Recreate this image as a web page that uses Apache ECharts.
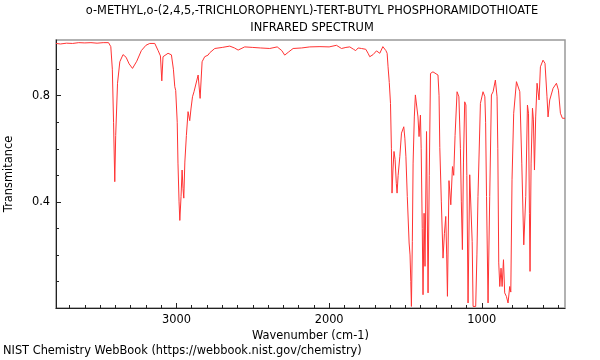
<!DOCTYPE html>
<html>
<head>
<meta charset="utf-8">
<script src="https://cdn.jsdelivr.net/npm/echarts@6/dist/echarts.min.js"></script>
<style>html,body{margin:0;padding:0;background:#fff}#c{width:600px;height:360px}</style>
</head>
<body>
<div id="c"></div>
<script>
const titleLines = ["o-METHYL,o-(2,4,5,-TRICHLOROPHENYL)-TERT-BUTYL PHOSPHORAMIDOTHIOATE", "INFRARED SPECTRUM"];
const footerText = "NIST Chemistry WebBook (https://webbook.nist.gov/chemistry)";
const xName = "Wavenumber (cm-1)";
const yName = "Transmitance";
const xMajorTicks = [1000, 2000, 3000];
const xMinorTicks = [500,600,700,800,900,1100,1200,1300,1400,1500,1600,1700,1800,1900,2100,2200,2300,2400,2500,2600,2700,2800,2900,3100,3200,3300,3400,3500,3600,3700];
const yMajorTicks = [0.4, 0.8];
const yMinorTicks = [0.1, 0.2, 0.3, 0.5, 0.6, 0.7, 0.9];
const wavenumber = [3789,3760,3720,3680,3640,3600,3560,3520,3480,3445,3430,3420,3412,3404,3398,3386,3371,3350,3330,3310,3288,3260,3230,3200,3175,3142,3120,3105,3096,3088,3055,3033,3020,3011,3005,2995,2990,2983,2978,2970,2963,2957,2952,2945,2935,2924,2913,2905,2895,2885,2873,2858,2852,2845,2832,2815,2793,2782,2749,2700,2651,2620,2596,2553,2500,2450,2389,2340,2310,2291,2265,2236,2180,2127,2060,2000,1952,1919,1890,1865,1840,1826,1810,1788,1760,1745,1734,1712,1690,1668,1648,1636,1628,1620,1614,1606,1598,1592,1588,1582,1575,1568,1560,1555,1548,1537,1526,1511,1504,1497,1488,1476,1470,1465,1461,1455,1450,1442,1435,1425,1418,1411,1402,1397,1390,1385,1378,1372,1362,1352,1344,1336,1320,1308,1287,1280,1275,1265,1254,1245,1236,1230,1225,1215,1203,1192,1184,1175,1162,1150,1140,1134,1127,1120,1112,1104,1098,1090,1079,1070,1063,1057,1040,1032,1025,1009,992,980,975,969,959,948,937,926,911,900,895,889,882,874,867,858,850,839,828,817,810,802,791,773,762,751,738,725,712,701,694,688,684,677,668,662,655,647,638,625,616,599,586,573,566,555,544,533,511,498,485,472,455];
const transmittance = [0.997,0.995,0.998,0.997,1.0,0.999,1.0,0.998,1.0,1.0,0.985,0.9,0.7,0.476,0.65,0.847,0.928,0.955,0.945,0.92,0.903,0.93,0.97,0.99,0.997,0.997,0.97,0.95,0.856,0.947,0.96,0.954,0.9,0.834,0.82,0.7,0.546,0.4,0.33,0.42,0.52,0.45,0.414,0.55,0.65,0.74,0.706,0.75,0.796,0.815,0.81,0.878,0.884,0.79,0.928,0.947,0.953,0.962,0.978,0.982,0.987,0.98,0.972,0.984,0.982,0.98,0.978,0.984,0.97,0.953,0.965,0.978,0.98,0.984,0.985,0.984,0.99,0.978,0.982,0.984,0.975,0.97,0.98,0.978,0.975,0.96,0.947,0.955,0.969,0.96,0.985,0.99,0.97,0.96,0.909,0.85,0.771,0.6,0.433,0.52,0.59,0.56,0.47,0.433,0.5,0.57,0.659,0.683,0.64,0.57,0.42,0.245,0.2,0.1,0.006,0.25,0.546,0.72,0.803,0.796,0.72,0.646,0.727,0.6,0.3,0.05,0.357,0.157,0.665,0.057,0.5,0.884,0.89,0.89,0.878,0.8,0.605,0.4,0.188,0.28,0.345,0.2,0.044,0.48,0.389,0.533,0.5,0.65,0.815,0.796,0.6,0.4,0.22,0.55,0.777,0.765,0.5,0.019,0.502,0.495,0.25,0.006,0.006,0.2,0.42,0.771,0.815,0.796,0.7,0.42,0.019,0.42,0.803,0.815,0.859,0.796,0.6,0.17,0.081,0.15,0.081,0.182,0.057,0.044,0.019,0.081,0.06,0.483,0.734,0.853,0.847,0.815,0.546,0.238,0.42,0.765,0.734,0.357,0.138,0.546,0.753,0.709,0.52,0.72,0.847,0.784,0.909,0.934,0.922,0.796,0.72,0.784,0.777,0.828,0.847,0.821,0.734,0.715,0.715];

const FONT = 'DejaVu Sans';
const FS = 11.4;
const chart = echarts.init(document.getElementById('c'), null, {renderer: 'canvas'});
const pts = wavenumber.map((w, i) => [w, transmittance[i]]);
const X_MIN = 455, X_MAX = 3789, Y_MIN = 0, Y_MAX = 1.01;
chart.setOption({
  animation: false,
  backgroundColor: '#ffffff',
  title: {show: false, text: titleLines.join(' ')},
  graphic: [{
    type: 'text', x: 312, y: 6,
    style: {text: titleLines[0], fontFamily: FONT, fontSize: FS, fill: '#000', align: 'center', verticalAlign: 'top'}
  }, {
    type: 'text', x: 312, y: 23,
    style: {text: titleLines[1], fontFamily: FONT, fontSize: FS, fill: '#000', align: 'center', verticalAlign: 'top'}
  }, {
    type: 'text', x: 3, y: 346,
    style: {text: footerText, fontFamily: FONT, fontSize: FS, fill: '#000', align: 'left', verticalAlign: 'top'}
  }],
  grid: {left: 56, right: 35, top: 40, bottom: 52, show: true, borderColor: '#999', borderWidth: 1.5,
    containLabel: false, outerBoundsMode: 'none'},
  xAxis: [{
    type: 'value', inverse: true, min: X_MIN, max: X_MAX, position: 'bottom',
    name: xName, nameLocation: 'middle', nameGap: 19,
    nameTextStyle: {fontFamily: FONT, fontSize: FS, color: '#000'},
    axisLine: {show: true, lineStyle: {color: '#222', width: 1}},
    axisTick: {show: true, inside: true, length: 5, customValues: xMajorTicks, lineStyle: {color: '#222'}},
    axisLabel: {customValues: xMajorTicks, margin: 7, fontFamily: FONT, fontSize: FS, color: '#000',
      formatter: v => String(v)},
    splitLine: {show: false}
  }, {
    type: 'value', inverse: true, min: X_MIN, max: X_MAX, position: 'bottom', gridIndex: 0,
    axisLine: {show: false},
    axisTick: {show: true, inside: true, length: 3, customValues: xMinorTicks, lineStyle: {color: '#222'}},
    axisLabel: {show: false},
    splitLine: {show: false}
  }],
  yAxis: [{
    type: 'value', min: Y_MIN, max: Y_MAX, position: 'left',
    name: yName, nameLocation: 'middle', nameGap: 41,
    nameTextStyle: {fontFamily: FONT, fontSize: FS, color: '#000'},
    axisLine: {show: true, lineStyle: {color: '#222', width: 1}},
    axisTick: {show: true, inside: true, length: 5, customValues: yMajorTicks, lineStyle: {color: '#222'}},
    axisLabel: {customValues: yMajorTicks, margin: 6, fontFamily: FONT, fontSize: FS, color: '#000',
      formatter: v => v.toFixed(1)},
    splitLine: {show: false}
  }, {
    type: 'value', min: Y_MIN, max: Y_MAX, position: 'left', gridIndex: 0,
    axisLine: {show: false},
    axisTick: {show: true, inside: true, length: 3, customValues: yMinorTicks, lineStyle: {color: '#222'}},
    axisLabel: {show: false},
    splitLine: {show: false}
  }],
  series: [{
    type: 'line', xAxisIndex: 0, yAxisIndex: 0, data: pts,
    showSymbol: false, symbol: 'none', smooth: false,
    lineStyle: {color: '#ff3333', width: 1},
    clip: true
  }]
});
</script>
</body>
</html>
